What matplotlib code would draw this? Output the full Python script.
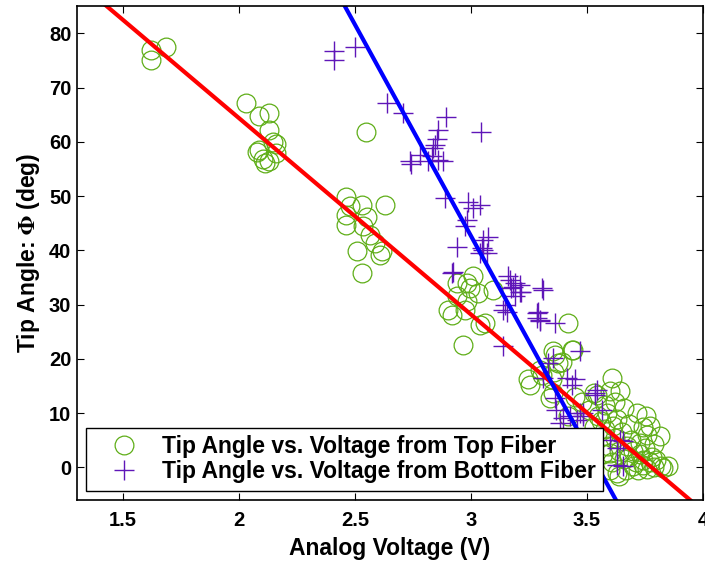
import numpy as np
import matplotlib
matplotlib.use("Agg")
import matplotlib.pyplot as plt

plt.rcParams['font.family'] = ['Liberation Sans', 'DejaVu Sans']
plt.rcParams['font.weight'] = 'bold'
plt.rcParams['mathtext.fontset'] = 'stix'

# Top fiber data (voltage, angle)
top_v = [1.62, 1.62, 1.685,
         2.029, 2.088, 2.131, 2.131, 2.148, 2.162, 2.088, 2.077, 2.105, 2.113, 2.131, 2.162,
         2.548,
         2.464, 2.479, 2.462, 2.462, 2.529, 2.63, 2.551, 2.536, 2.565, 2.587, 2.608, 2.615, 2.508, 2.529,
         3.010, 2.982, 2.996, 2.939, 3.096, 3.032, 2.939, 2.917, 2.974, 2.982, 3.039, 3.061, 2.967, 2.902,
         3.42,
         3.362, 3.376, 3.434, 3.391, 3.255, 3.305, 3.348, 3.355, 3.53, 3.607, 3.60, 3.355, 3.247, 3.341,
         3.42, 3.642, 3.542, 3.714, 3.772, 3.815, 3.851, 3.80, 3.586, 3.614, 3.57, 3.60, 3.628, 3.70,
         3.743, 3.671, 3.73, 3.757, 3.441, 3.30, 3.36,
         3.56, 3.58, 3.59, 3.61, 3.62, 3.63, 3.64, 3.65, 3.66, 3.67, 3.68, 3.69, 3.70, 3.71, 3.72,
         3.73, 3.74, 3.75, 3.76, 3.77, 3.78, 3.79, 3.82, 3.83, 3.79, 3.76, 3.74, 3.68, 3.66, 3.62,
         3.58, 3.55, 3.64, 3.60, 3.57, 3.53, 3.51, 3.48, 3.45, 3.50]
top_angle = [77, 75, 77.5,
             67.2, 64.8, 65.4, 62.1, 60.0, 59.6, 58.5, 58.2, 56.8, 56.1, 56.5, 57.9,
             61.9,
             49.8, 48.1, 46.5, 44.7, 48.4, 48.4, 46.2, 44.4, 42.8, 41.3, 39.2, 39.8, 39.8, 35.9,
             35.2, 34.0, 33.0, 34.0, 32.7, 32.1, 31.5, 28.1, 29.0, 30.6, 26.3, 26.6, 22.6, 29.0,
             26.6,
             20.8, 19.2, 21.7, 19.5, 15.2, 17.1, 16.2, 13.7, 13.7, 16.5, 14.0, 21.4, 16.2, 12.8,
             9.4, 14.0, 13.4, 10.0, 7.6, 5.7, 0.2, 1.4, 10.0, 7.6, 5.7, 2.7, -1.0, 0.2,
             1.4, 3.9, 4.5, 9.4, 21.7, 18.0, 17.5,
             8.5, 7.0, 4.0, 1.0, 5.5, 9.0, 3.0, 6.5, 1.5, -0.5, 2.0, 5.0, 3.0, 1.0, -0.5,
             2.5, 0.5, 3.5, -0.3, 1.0, 2.0, 0.0, 0.3, -0.2, 4.3, 6.0, 7.5, 8.0, 11.0, 12.0,
             11.5, 9.5, -1.5, -0.5, 2.5, 7.5, 10.5, 12.0, 13.0, 5.0]

# Bottom fiber data (voltage, angle)
bot_v = [2.41, 2.41, 2.50, 2.64, 2.709, 2.891, 3.042, 2.859, 2.852, 2.845, 2.838, 2.78, 2.737, 2.742,
         2.859, 2.881, 2.831, 2.816,
         2.888, 2.989, 3.039, 3.01, 2.982, 2.974, 2.939, 3.054, 3.039, 3.068, 3.046, 2.924, 3.161,
         3.19, 3.211, 3.305,
         3.075, 3.054, 2.917, 3.168, 3.175, 3.211, 3.19, 3.312, 3.154, 3.29, 3.298, 3.362, 3.283,
         3.14, 3.147,
         3.47, 3.355, 3.334, 3.312, 3.413, 3.449, 3.434, 3.535, 3.362, 3.369, 3.398, 3.427, 3.456,
         3.485, 3.47, 3.383,
         3.535, 3.564, 3.485, 3.657, 3.60, 3.657, 3.628, 3.642, 3.628, 3.183, 3.218, 3.14, 3.283,
         3.298, 3.542]
bot_angle = [76.8, 75.0, 77.5, 67.2, 65.3, 64.6, 61.9, 62.1, 60.5, 59.4, 58.8, 57.6, 56.4, 56.0,
             56.7, 56.4, 57.3, 56.4,
             49.6, 49.0, 48.4, 47.8, 45.6, 44.4, 40.7, 41.9, 39.5, 39.5, 40.4, 36.1, 35.2,
             34.0, 33.6, 33.0,
             42.5, 40.0, 35.8, 34.6, 33.0, 32.4, 31.5, 32.7, 28.7, 28.7, 27.2, 26.6, 27.5,
             22.3, 30.0,
             21.4, 20.1, 19.2, 16.5, 16.5, 16.2, 15.2, 13.7, 12.8, 10.6, 9.1, 9.4, 8.8,
             9.4, 10.0, 8.2,
             13.4, 10.6, 10.0, 4.8, 5.1, 0.2, 3.6, 5.1, 0.5, 33.3, 32.4, 29.0, 28.4,
             26.9, 14.3]

# Linear fits: angle = intercept + slope * voltage
top_fit = (136.8, -36.2)
bot_fit = (276.4, -77.9)

x_ticks = [1.5, 2, 2.5, 3, 3.5, 4]
x_ticklabels = ['1.5', '2', '2.5', '3', '3.5', '4']
y_ticks = [0, 10, 20, 30, 40, 50, 60, 70, 80]
x_range = (1.302, 4.0)
y_range = (-6, 85)

legend_labels = ['Tip Angle vs. Voltage from Top Fiber',
                 'Tip Angle vs. Voltage from Bottom Fiber']

fig = plt.figure(figsize=(7.05, 5.63), dpi=100)
ax = fig.add_axes([0.109, 0.112, 0.888, 0.877])

green = '#5fae18'
purple = '#5f16b8'

h1, = ax.plot(top_v, top_angle, linestyle='none', marker='o', markersize=13.5,
              markerfacecolor='none', markeredgecolor=green, markeredgewidth=0.9,
              label=legend_labels[0])
h2, = ax.plot(bot_v, bot_angle, linestyle='none', marker='+', markersize=14.5,
              markeredgecolor=purple, markeredgewidth=1.0, label=legend_labels[1])

xl = np.array(x_range)
ax.plot(xl, top_fit[0] + top_fit[1] * xl, color='red', linewidth=3.0)
ax.plot(xl, bot_fit[0] + bot_fit[1] * xl, color='blue', linewidth=3.0)

ax.set_xlim(*x_range)
ax.set_ylim(*y_range)
ax.set_xticks(x_ticks)
ax.set_xticklabels(x_ticklabels)
ax.set_yticks(y_ticks)
ax.tick_params(direction='in', top=True, right=True, length=5, width=0.8,
               labelsize=14.5)
ax.tick_params(axis='x', pad=8)
ax.tick_params(axis='y', pad=4)
for lab in ax.get_xticklabels() + ax.get_yticklabels():
    lab.set_fontweight('bold')
for s in ax.spines.values():
    s.set_linewidth(1.2)

ax.set_xlabel('Analog Voltage (V)', fontsize=16.5, fontweight='bold', labelpad=5)
ax.set_ylabel(r'Tip Angle: $\Phi$ (deg)', fontsize=16.5, fontweight='bold', labelpad=5)

leg = ax.legend(handles=[h1, h2], loc='lower left', fontsize=16.5, frameon=True,
                fancybox=False, framealpha=1, edgecolor='black',
                borderaxespad=0.4, handletextpad=0.3, labelspacing=0.1,
                borderpad=0.32, handlelength=2.7)
leg.get_frame().set_linewidth(1.0)
for t in leg.get_texts():
    t.set_fontweight('bold')

fig.savefig('out.png', dpi=100)
